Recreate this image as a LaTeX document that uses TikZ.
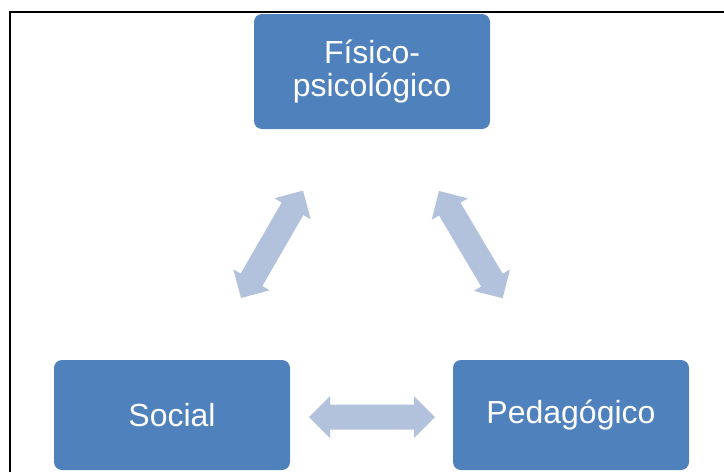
\documentclass[tikz,border=0pt]{standalone}
\usepackage{fontspec}
\setmainfont{Liberation Sans}
\definecolor{boxblue}{HTML}{4F81BD}
\definecolor{arrowblue}{HTML}{B3C2DC}
\newcommand\dblarrow[3]{%
  \begin{scope}[shift={#1},rotate=#2]
    \fill[arrowblue] (0,0) -- (21,-21) -- (21,-12.5) -- ({#3-21},-12.5) -- ({#3-21},-21)
      -- (#3,0) -- ({#3-21},21) -- ({#3-21},12.5) -- (21,12.5) -- (21,21) -- cycle;
  \end{scope}}
\begin{document}
\begin{tikzpicture}[x=1pt,y=-1pt,
  box/.style={fill=boxblue, rounded corners=8pt, text=white,
    font=\fontsize{32}{33}\selectfont, align=center, inner sep=0pt,
    minimum width=236pt}]
\useasboundingbox (0,0) rectangle (724,472);
\draw[line width=2pt] (10,472) -- (10,12) -- (724,12);
\node[box, minimum height=115pt] (fis) at (372,71.5) {Físico-\\psicológico};
\node[box, minimum height=110pt] (soc) at (172,415) {Social};
\node[box, minimum height=110pt] (ped) at (571,415) {Pedagógico};
\coordinate (a1) at (241,298);
\coordinate (a2) at (439,191);
\coordinate (a3) at (309,417);
\dblarrow{(a1)}{60}{124}
\dblarrow{(a2)}{-59.3}{124.7}
\dblarrow{(a3)}{0}{126}
\end{tikzpicture}
\end{document}
